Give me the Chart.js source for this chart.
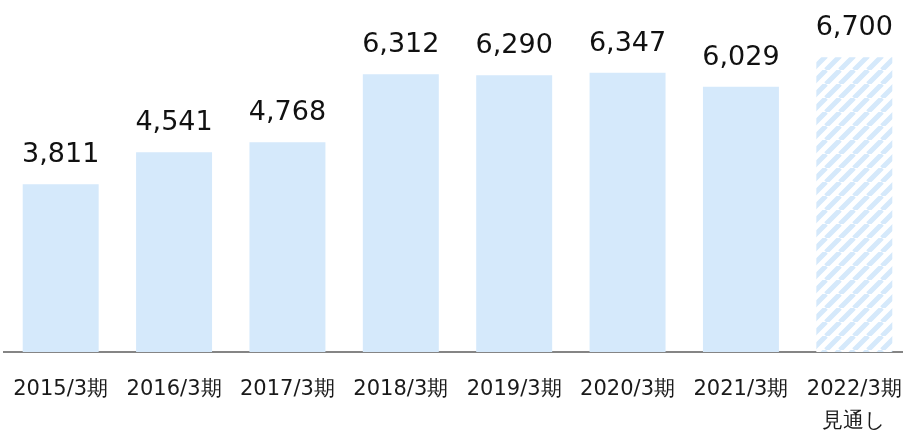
<!DOCTYPE html>
<html>
<head>
<meta charset="utf-8">
<script src="https://cdn.jsdelivr.net/npm/chart.js@4"></script>
<style>
  html, body { margin: 0; padding: 0; overflow: hidden; background: #fff; }
  #chart { display: block; }
</style>
</head>
<body>
<canvas id="chart" width="911" height="432"></canvas>
<script>
const labels = ['2015/3期', '2016/3期', '2017/3期', '2018/3期', '2019/3期', '2020/3期', '2021/3期', ['2022/3期', '見通し']];
const values = [3811, 4541, 4768, 6312, 6290, 6347, 6029, 6700];
const forecast = [false, false, false, false, false, false, false, true];

const barColor = '#d5e9fb';

// stripes for the forecast bar
function makeStripes() {
    let s = 14;
    let c = document.createElement('canvas');
    c.width = s; c.height = s;
    let g = c.getContext('2d');
    g.fillStyle = '#fff';
    g.fillRect(0, 0, s, s);
    g.strokeStyle = barColor;
    g.lineWidth = 5;
    g.beginPath();
    for (let i = -s; i <= s; i += s) {
        g.moveTo(i, s);
        g.lineTo(i + s, 0);
    }
    g.stroke();
    return g.createPattern(c, 'repeat');
}

const stripes = makeStripes();

// value labels above bars
const valueLabels = {
    id: 'valueLabels',
    afterDatasetsDraw(chart) {
        let ctx = chart.ctx;
        let meta = chart.getDatasetMeta(0);
        ctx.save();
        ctx.font = '27px "DejaVu Sans"';
        ctx.fillStyle = '#111';
        ctx.textAlign = 'center';
        ctx.textBaseline = 'alphabetic';
        meta.data.forEach((bar, i) => {
            ctx.fillText(values[i].toLocaleString('en-US'), bar.x, bar.y - 22);
        });
        ctx.restore();
    }
};

let ctx = document.getElementById('chart').getContext('2d');

let myChart = new Chart(ctx, {
    type: 'bar',
    data: {
        labels: labels,
        datasets: [{
            data: values,
            backgroundColor: forecast.map(f => f ? stripes : barColor),
            borderWidth: 0,
            barPercentage: 0.67,
            categoryPercentage: 1
        }]
    },
    options: {
        responsive: false,
        animation: false,
        layout: { padding: { left: 4, right: 0, top: 0, bottom: 0 } },
        plugins: {
            legend: { display: false },
            tooltip: { enabled: false }
        },
        scales: {
            x: {
                afterFit: (axis) => {
                    axis.height = 80;
                    axis.paddingLeft = 0;
                    axis.paddingRight = 0;
                },
                grid: { display: false, drawTicks: false },
                border: { color: '#858585', width: 2 },
                ticks: {
                    color: '#1a1a1a',
                    padding: 22,
                    maxRotation: 0,
                    autoSkip: false,
                    font: { family: 'DejaVu Sans', size: 21, lineHeight: 1.52 }
                }
            },
            y: {
                display: false,
                min: 0,
                max: 8000
            }
        }
    },
    plugins: [valueLabels]
});
</script>
</body>
</html>
